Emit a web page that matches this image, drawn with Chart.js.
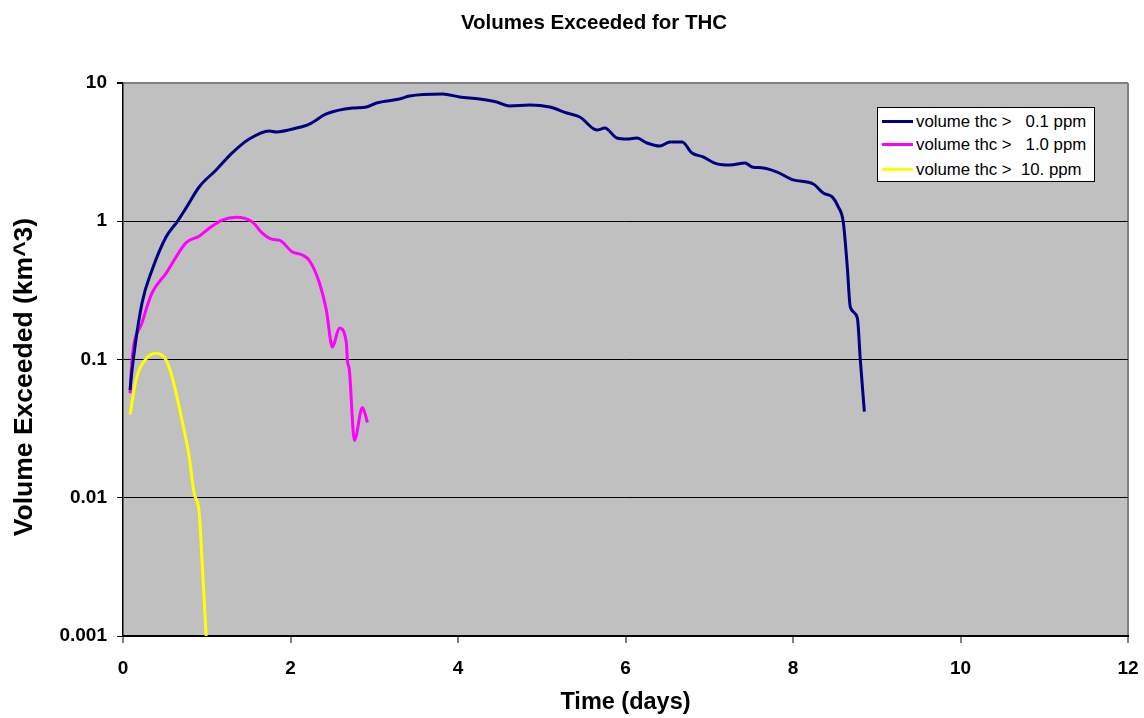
<!DOCTYPE html>
<html>
<head>
<meta charset="utf-8">
<script src="https://cdn.jsdelivr.net/npm/chart.js@4/dist/chart.umd.min.js"></script>
<style>
  html, body { margin: 0; padding: 0; background: #fff; }
  #wrap { position: relative; width: 1144px; height: 718px; }
  #title { position: absolute; left: 394px; width: 400px; top: 10px; height: 24px; line-height: 24px; text-align: center;
    font-family: "Liberation Sans", Arial, sans-serif; font-weight: bold; font-size: 20.5px; color: #000; white-space: pre; }
  #ytitle { position: absolute; left: 23px; top: 377px; width: 400px; height: 30px; line-height: 30px; margin-left: -200px; margin-top: -15px;
    text-align: center; transform: rotate(-90deg); font-family: "Liberation Sans", Arial, sans-serif; font-weight: bold; font-size: 26.5px; color: #000; white-space: pre; }
  #legend { position: absolute; left: 877px; top: 107px; width: 218px; height: 75px; box-sizing: border-box;
    border: 1px solid #000; background: #fff; font-family: "Liberation Sans", Arial, sans-serif; font-size: 16.8px; color: #000; }
  .row { position: absolute; left: 4px; height: 20px; line-height: 20px; white-space: pre; }
  .sw { display: inline-block; width: 31px; height: 3px; vertical-align: middle; margin-right: 3px; position: relative; top: -1px; }
</style>
</head>
<body>
<div id="wrap">
  <canvas id="c" width="1144" height="718"></canvas>
  <div id="title"></div>
  <div id="ytitle"></div>
  <div id="legend"></div>
</div>
<script>
// ---- data ----
const seriesNames = ["volume thc >   0.1 ppm", "volume thc >   1.0 ppm", "volume thc >  10. ppm"];
const seriesColors = ["#000080", "#FF00FF", "#FFFF00"];

const daysA = [0.084,0.108,0.227,0.347,0.514,0.646,0.754,0.909,1.112,1.304,1.507,1.746,1.830,2.069,2.225,2.428,2.739,2.907,3.026,3.301,3.421,3.816,4.019,4.258,4.462,4.617,4.856,5.096,5.299,5.455,5.658,5.754,5.897,6.017,6.136,6.256,6.411,6.531,6.675,6.794,6.926,7.093,7.249,7.428,7.512,7.644,7.811,8.002,8.242,8.361,8.469,8.541,8.600,8.648,8.684,8.768,8.804,8.852];
const volA  = [0.060,0.084,0.256,0.444,0.77,0.99,1.25,1.77,2.35,3.12,3.93,4.50,4.43,4.72,5.05,5.97,6.59,6.70,7.16,7.66,8.05,8.32,7.92,7.66,7.29,6.82,6.93,6.70,6.07,5.68,4.57,4.72,4.00,3.93,4.00,3.68,3.50,3.74,3.74,3.12,2.92,2.60,2.55,2.64,2.47,2.43,2.27,1.99,1.86,1.60,1.50,1.27,0.99,0.47,0.24,0.20,0.099,0.042];

const daysB = [0.084,0.108,0.227,0.347,0.514,0.754,0.909,1.029,1.184,1.352,1.543,1.663,1.782,1.866,2.022,2.141,2.225,2.344,2.428,2.500,2.584,2.667,2.679,2.703,2.763,2.859,2.919];
const volB  = [0.057,0.100,0.184,0.303,0.42,0.70,0.78,0.89,1.02,1.07,0.99,0.82,0.74,0.73,0.60,0.57,0.52,0.36,0.228,0.123,0.169,0.132,0.099,0.084,0.026,0.045,0.035];

const daysC = [0.084,0.155,0.287,0.407,0.514,0.586,0.706,0.789,0.849,0.909,0.945,0.993];
const volC  = [0.040,0.071,0.103,0.111,0.099,0.075,0.036,0.020,0.0108,0.0079,0.0034,0.001];

const yTickValues = [0.001, 0.01, 0.1, 1, 10];
const yTickLabels = ["0.001", "0.01", "0.1", "1", "10"];

const titleText = "Volumes Exceeded for THC";
const xTitle = "Time (days)";
const yTitle = "Volume Exceeded (km^3)";

// ---- build ----
function pts(xs, ys) { return xs.map((x, i) => ({ x: x, y: ys[i] })); }
const FONT = "'Liberation Sans', Arial, sans-serif";

const bgPlugin = {
  id: 'plotBg',
  beforeDraw(chart) {
    const a = chart.chartArea, ctx = chart.ctx;
    ctx.save();
    ctx.fillStyle = '#C0C0C0';
    ctx.fillRect(a.left, a.top, a.right - a.left, a.bottom - a.top);
    ctx.restore();
  }
};

const dsList = [pts(daysA, volA), pts(daysB, volB), pts(daysC, volC)].map((d, i) => ({
  label: seriesNames[i],
  data: d,
  borderColor: seriesColors[i],
  backgroundColor: seriesColors[i],
  borderWidth: 3,
  pointRadius: 0,
  cubicInterpolationMode: 'monotone',
  fill: false
}));

new Chart(document.getElementById('c'), {
  type: 'line',
  data: { datasets: dsList },
  options: {
    responsive: false,
    animation: false,
    layout: { padding: { left: 0, right: 16, top: 83, bottom: 0 } },
    plugins: {
      legend: { display: false },
      tooltip: { enabled: false },
      title: { display: false }
    },
    scales: {
      x: {
        type: 'linear', min: 0, max: 12,
        ticks: { stepSize: 2, color: '#000', font: { family: FONT, size: 19, weight: 'bold' }, padding: 14, maxRotation: 0 },
        grid: {
          color: (c) => (c.tick && c.tick.value === 12) ? '#808080' : 'rgba(0,0,0,0)',
          lineWidth: 2, tickLength: 7, tickColor: '#000', tickWidth: 1, drawTicks: true
        },
        border: { display: true, color: '#000', width: 2 },
        title: { display: true, text: xTitle, color: '#000', font: { family: FONT, size: 23.5, weight: 'bold' }, padding: { top: 0, bottom: 1 } },
        afterFit(s) { s.height = 82; s.paddingLeft = 0; s.paddingRight = 0; }
      },
      y: {
        type: 'logarithmic', min: 0.001, max: 10,
        afterBuildTicks(s) { s.ticks = yTickValues.map(v => ({ value: v })); },
        ticks: {
          color: '#000', font: { family: FONT, size: 19, weight: 'bold' }, padding: 10,
          callback: (v, i) => yTickLabels[i]
        },
        grid: {
          color: (c) => (c.tick && c.tick.value === 10) ? '#808080' : '#000',
          lineWidth: (c) => (c.tick && c.tick.value === 10) ? 2 : 1,
          tickLength: 6, tickColor: '#000', drawTicks: true
        },
        border: { display: true, color: '#000', width: 1.5 },
        title: { display: false },
        afterFit(s) { s.width = 123; s.paddingTop = 0; s.paddingBottom = 0; }
      }
    }
  },
  plugins: [bgPlugin]
});

document.getElementById('title').textContent = titleText;
document.getElementById('ytitle').textContent = yTitle;

// HTML legend (real text)
const lg = document.getElementById('legend');
seriesNames.forEach((n, i) => {
  const r = document.createElement('div');
  r.className = 'row';
  r.style.top = [4, 27, 52][i] + 'px';
  const sw = document.createElement('span');
  sw.className = 'sw';
  sw.style.background = seriesColors[i];
  r.appendChild(sw);
  r.appendChild(document.createTextNode(n));
  lg.appendChild(r);
});
</script>
</body>
</html>
